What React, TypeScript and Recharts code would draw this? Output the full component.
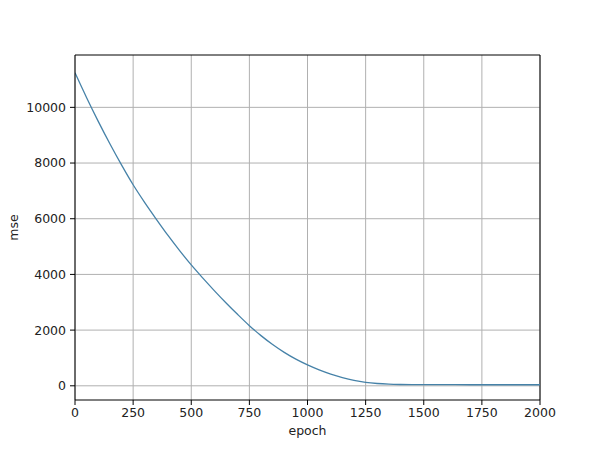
import React from "react";
import { LineChart, Line, XAxis, YAxis, CartesianGrid, ReferenceLine } from "recharts";

const epochs = [0, 50, 100, 150, 200, 250, 300, 350, 400, 450, 500, 550, 600, 650, 700, 750, 800, 850, 900, 950, 1000, 1050, 1100, 1150, 1200, 1250, 1300, 1350, 1400, 1450, 1500, 1600, 1700, 1800, 1900, 2000];
const mse = [11240, 10346, 9497, 8693, 7934, 7220, 6580, 5980, 5400, 4855, 4340, 3866, 3411, 2975, 2558, 2160, 1802, 1482, 1200, 956, 750, 572, 420, 294, 194, 124, 82, 58, 47, 42, 40, 39, 38, 38, 37, 37];
const xTicks = [0, 250, 500, 750, 1000, 1250, 1500, 1750, 2000];
const yTicks = [0, 2000, 4000, 6000, 8000, 10000];
const xDomain = [0, 2000];
const yDomain = [-510, 11880];

const data = epochs.map((e, i) => ({ epoch: e, mse: mse[i] }));

const FONT = "DejaVu Sans";
const tickStyle = { fontFamily: FONT, fontSize: 12.5, fill: "#222" };

export default function App() {
  return (
    <div style={{ width: 600, height: 450, background: "#fff" }}>
      <style>{`body{margin:0}`}</style>
      <LineChart width={600} height={450} data={data} margin={{ top: 55, right: 60, bottom: 20, left: 0 }}>
        <CartesianGrid stroke="#b0b0b0" strokeWidth={1} horizontalValues={yTicks} verticalValues={xTicks} />
        <XAxis
          dataKey="epoch"
          type="number"
          domain={xDomain}
          ticks={xTicks}
          allowDataOverflow
          height={30}
          tickSize={5}
          tickMargin={3}
          stroke="#000"
          tick={tickStyle}
          label={{ value: "epoch", position: "bottom", offset: -4, style: { fontFamily: FONT, fontSize: 12.5, fill: "#222" } }}
        />
        <YAxis
          type="number"
          domain={yDomain}
          ticks={yTicks}
          allowDataOverflow
          width={75}
          tickSize={5}
          tickMargin={4}
          stroke="#000"
          tick={tickStyle}
          label={{
            content: (p: any) => {
              const vb = p.viewBox;
              const x = vb.x + 13;
              const y = vb.y + vb.height / 2;
              return (
                <text x={x} y={y} transform={`rotate(-90, ${x}, ${y})`} textAnchor="middle" dominantBaseline="central" style={{ fontFamily: FONT, fontSize: 12.5, fill: "#222" }}>
                  mse
                </text>
              );
            },
          }}
        />
        <ReferenceLine y={yDomain[1]} stroke="#000" strokeWidth={1} />
        <ReferenceLine x={xDomain[1]} stroke="#000" strokeWidth={1} />
        <Line type="monotone" dataKey="mse" stroke="#4682a8" strokeWidth={1.3} dot={false} isAnimationActive={false} />
      </LineChart>
    </div>
  );
}
